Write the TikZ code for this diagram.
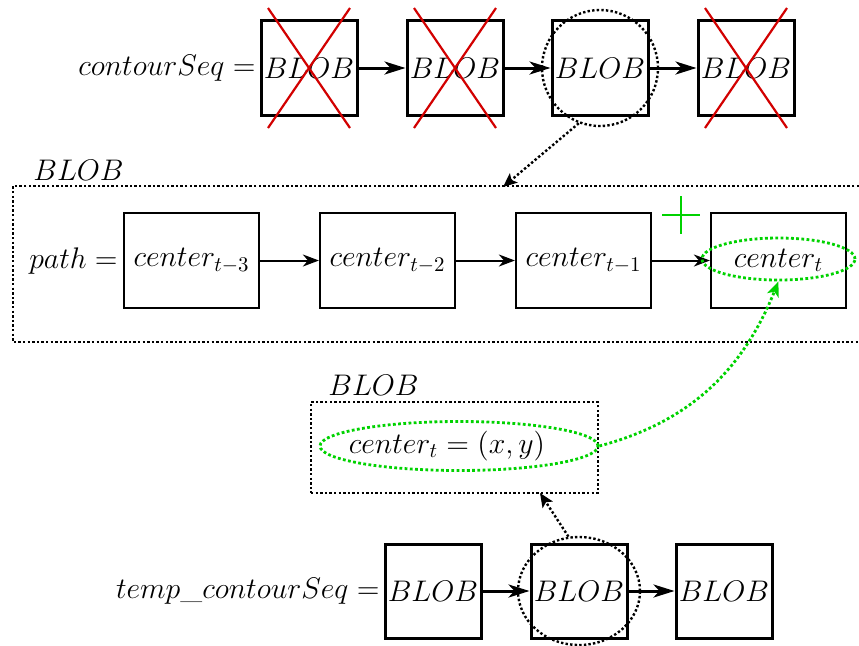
\RequirePackage{fix-cm}
\documentclass[tikz,border=0pt]{standalone}
\usetikzlibrary{arrows.meta,shapes.geometric,calc}
\definecolor{xgreen}{RGB}{0,210,0}
\definecolor{xred}{RGB}{210,0,0}
\begin{document}
\begin{tikzpicture}[x=0.5pt,y=-0.5pt,font=\fontsize{14.9}{18}\selectfont,
  blob/.style={draw,line width=1.5pt,minimum width=48pt,minimum height=47.5pt,inner sep=0pt},
  cbox/.style={draw,line width=1.1pt,minimum width=67.5pt,minimum height=47.5pt,inner sep=0pt},
  tarr/.style={line width=1.5pt,-{Stealth[length=10.5pt,width=6.5pt,inset=3pt]}},
  marr/.style={line width=1pt,-{Stealth[length=8pt,width=6pt,inset=2.5pt]}},
  dots/.style={line width=1.2pt,dash pattern=on 1.2pt off 1.1pt},
  gdots/.style={draw=xgreen,line width=1.4pt,dash pattern=on 1.4pt off 1.2pt},
  darr/.style={dots,-{Stealth[length=7pt,width=6pt,inset=1.5pt]}},
  cross/.style={xred,line width=1.1pt}]
\useasboundingbox (0,0) rectangle (859,645);
% top row
\node[anchor=east,inner sep=1pt] (lab1) at (258,68) {$contourSeq=$};
\node[blob] (t1) at (309,68) {$BLOB$};
\node[blob] (t2) at (455,68) {$BLOB$};
\node[blob] (t3) at (600,68) {$BLOB$};
\node[blob] (t4) at (746,68) {$BLOB$};
\draw[tarr] (t1) -- (t2);
\draw[tarr] (t2) -- (t3);
\draw[tarr] (t3) -- (t4);
\foreach \n in {t1,t2,t4}{
  \draw[cross] ($(\n)+(-41,-60)$) -- ($(\n)+(41,60)$);
  \draw[cross] ($(\n)+(41,-60)$) -- ($(\n)+(-41,60)$);
}
\node[draw,circle,dots,minimum size=58pt,inner sep=0pt] (c1) at (600,68) {};
% middle block
\node[anchor=base west,inner sep=0pt] (bl1) at (33,180) {$BLOB$};
\draw[dots] (859,186) -- (13,186) -- (13,342) -- (859,342);
\coordinate (m1) at (503,187);
\draw[darr] (c1.-111) -- (m1);
\node[anchor=east,inner sep=1pt] (lab2) at (120,261) {$path=$};
\node[cbox] (p1) at (191.5,260.5) {$center_{t-3}$};
\node[cbox] (p2) at (387.5,260.5) {$center_{t-2}$};
\node[cbox] (p3) at (583.5,260.5) {$center_{t-1}$};
\node[cbox] (p4) at (778.5,260.5) {$center_{t}$};
\draw[marr] (p1) -- (p2);
\draw[marr] (p2) -- (p3);
\draw[marr] (p3) -- (p4);
\node[ellipse,gdots,minimum width=76.5pt,minimum height=21pt,inner sep=0pt] (e1) at (778.5,259) {};
\draw[xgreen,line width=1.3pt] (662,215) -- (700,215) (681,196) -- (681,234);
% lower BLOB
\node[anchor=base west,inner sep=0pt] (bl2) at (328,395) {$BLOB$};
\node[draw,dots,minimum width=143.5pt,minimum height=45.5pt,inner sep=0pt] (bb) at (454.5,447.5) {};
\node (ct) at (447,446) {$center_t=(x,y)$};
\node[ellipse,gdots,minimum width=139pt,minimum height=24.5pt,inner sep=0pt] (e2) at (459,446) {};
\draw[gdots,-{Stealth[length=7.5pt,width=6pt,inset=2pt]}] (e2.east) to[out=15,in=-112] (e1.south);
% bottom row
\node[anchor=east,inner sep=1pt] (lab3) at (382,591) {$temp\_contourSeq=$};
\node[blob,minimum height=47pt] (b1) at (433,591) {$BLOB$};
\node[blob,minimum height=47pt] (b2) at (579,591) {$BLOB$};
\node[blob,minimum height=47pt] (b3) at (724,591) {$BLOB$};
\draw[tarr] (b1) -- (b2);
\draw[tarr] (b2) -- (b3);
\node[draw,ellipse,dots,minimum width=61pt,minimum height=54pt,inner sep=0pt] (c2) at (579,591) {};
\coordinate (m2) at (540,493);
\draw[darr] (c2.101) -- (m2);
\end{tikzpicture}
\end{document}
